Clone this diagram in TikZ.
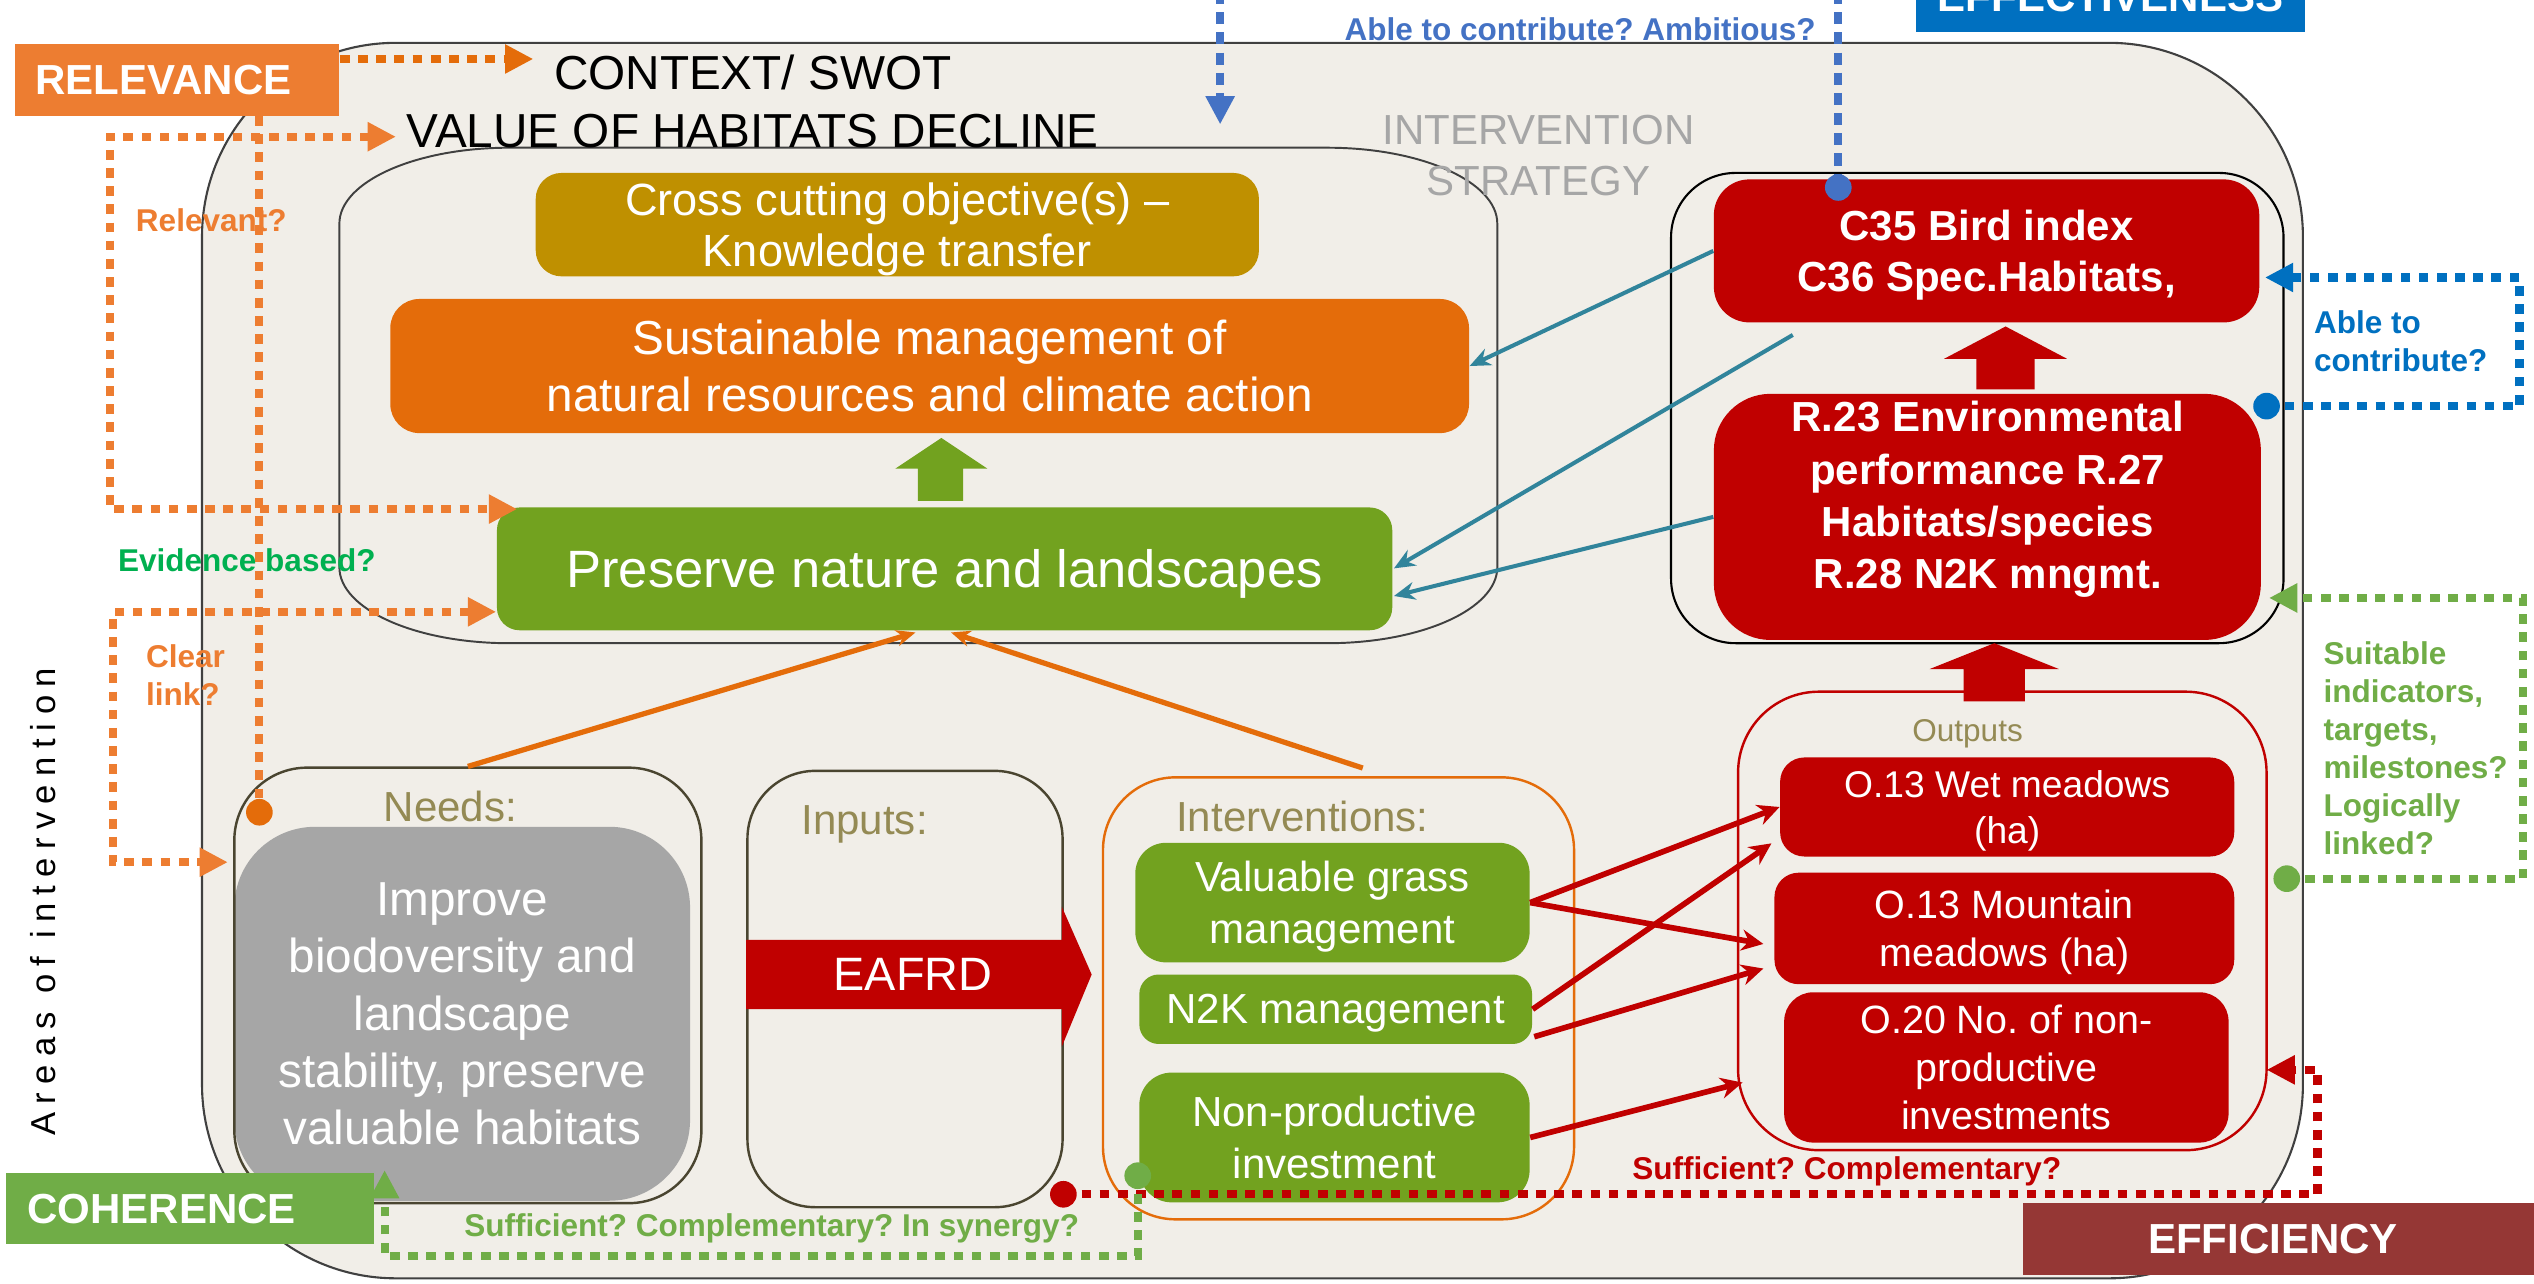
\documentclass[tikz,border=0pt]{standalone}
\usepackage{fontspec}
\setmainfont{Liberation Sans}
\usetikzlibrary{arrows.meta,calc}
\definecolor{bg}{HTML}{F1EEE8}
\definecolor{frame}{HTML}{404040}
\definecolor{relor}{HTML}{ED7D31}
\definecolor{dor}{HTML}{E46C0A}
\definecolor{gold}{HTML}{BF9000}
\definecolor{gbox}{HTML}{72A21F}
\definecolor{glight}{HTML}{70AD47}
\definecolor{evgreen}{HTML}{00B050}
\definecolor{dred}{HTML}{C00000}
\definecolor{effbrown}{HTML}{953735}
\definecolor{effblue}{HTML}{0070C0}
\definecolor{tblue}{HTML}{4472C4}
\definecolor{tealc}{HTML}{31849B}
\definecolor{olive}{HTML}{948A54}
\definecolor{grayb}{HTML}{A6A6A6}
\definecolor{needsb}{HTML}{4A4530}
\newcommand\fz[2]{\fontsize{#1pt}{#2pt}\selectfont}
\frenchspacing
\begin{document}
\begin{tikzpicture}[x=0.02cm,y=-0.02cm,
  every node/.style={inner sep=0pt, text depth=0pt},
  rect/.style n args={4}{minimum width={((#3)-(#1))*0.02cm}, minimum height={((#4)-(#2))*0.02cm}, at={({((#1)+(#3))/2},{((#2)+(#4))/2})}},
  box/.style={text=white, align=center},
  dotline/.style={line width=0.1cm, dash pattern=on 0.12cm off 0.105cm},
  bluedot/.style={line width=0.1cm, dash pattern=on 0.15cm off 0.1cm},
  dtip/.style={-{Triangle[length=0.35cm,width=0.34cm]}},
  dtips/.style={{Triangle[length=0.35cm,width=0.34cm]}-{Triangle[length=0.35cm,width=0.34cm]}},
  dotc/.style={circle, minimum size=0.33cm},
  lab/.style={font=\fz{11.1}{13.4}\bfseries},
  cont/.style={line width=0.03cm},
  tconn/.style={tealc, line width=0.05cm, -{Stealth[length=0.26cm,width=0.22cm]}},
  rconn/.style={dred, line width=0.07cm, -{Stealth[length=0.27cm,width=0.26cm]}},
  oconn/.style={dor, line width=0.065cm, -{Stealth[length=0.24cm,width=0.2cm]}},
]
\useasboundingbox (0,0) rectangle (1568,794);
\clip (0,0) rectangle (1568,794);

% outer frame
\draw[fill=bg, draw=frame, line width=0.026cm, rounded corners=2.4cm] (125,26.5) rectangle (1425,791);

% effectiveness box
\node[rect={1185.5}{-23.4}{1426.5}{20}, fill=effblue, text=white, font=\fz{14.8}{17}\bfseries] (eff) {EFFECTIVENESS};

% intervention strategy frame
\draw[draw=frame, line width=0.024cm] (210,138.4) .. controls (210,112.5) and (257,91.4) .. (315,91.4) -- (821.5,91.4) .. controls (879.5,91.4) and (926.5,112.5) .. (926.5,138.4) -- (926.5,351) .. controls (926.5,376.9) and (879.5,398) .. (821.5,398) -- (315,398) .. controls (257,398) and (210,376.9) .. (210,351) -- cycle;
\node[text=grayb, align=center, font=\fz{14.8}{18}] (istrat) at (952,96) {INTERVENTION\\STRATEGY};

% context texts
\node[font=\fz{16.8}{20}] (ctx) at (465.8,44.6) {CONTEXT/ SWOT};
\node[font=\fz{16.8}{20}] (val) at (465.8,80.8) {VALUE OF HABITATS DECLINE};

% indicators container
\node[rect={1034}{107}{1413}{398}, draw=black, line width=0.026cm, rounded corners=0.8cm] (indbox) {};

% objective boxes
\node[box, rect={331.5}{107}{779}{171}, fill=gold, rounded corners=0.32cm, font=\fz{15.9}{18.2}] (cross) {Cross cutting objective(s) –\\Knowledge transfer};
\node[box, rect={241.5}{185}{909}{268}, fill=dor, rounded corners=0.36cm, font=\fz{16.8}{20.1}] (sust) {Sustainable management of\\natural resources and climate action};
\node[box, rect={307.5}{314}{861.5}{390}, fill=gbox, rounded corners=0.28cm, font=\fz{18.5}{22}] (pres) {Preserve nature and landscapes};

% indicator boxes
\node[box, rect={1060.5}{111}{1398}{199.5}, fill=dred, rounded corners=0.44cm, font=\fz{14.8}{18}\bfseries] (c35) {C35 Bird index\\C36 Spec.Habitats,};
\node[rect={1060.5}{243.7}{1399}{396}, fill=dred, rounded corners=0.7cm] (r23) {};
\node[box, font=\fz{14.8}{18.4}\bfseries] (r23t) at (1230,306.3) {R.23 Environmental\\performance R.27\\Habitats/species\\R.28 N2K mngmt.};

% outputs
\node[rect={1075.5}{428}{1402.5}{711.7}, draw=dred, cont, rounded corners=1cm] (outs) {};
\node[text=olive, font=\fz{11.1}{13}] (outlab) at (1217.5,452.2) {Outputs};
\node[box, rect={1101.5}{468.7}{1382.5}{530}, fill=dred, rounded corners=0.3cm, font=\fz{13.1}{16.5}] (wet) {O.13 Wet meadows\\(ha)};
\node[box, rect={1098}{540}{1382.5}{609}, fill=dred, rounded corners=0.3cm, font=\fz{13.9}{17}] (mtn) {O.13 Mountain\\meadows (ha)};
\node[box, rect={1104}{614}{1379}{707}, fill=dred, rounded corners=0.36cm, font=\fz{13.9}{17}] (o20) {O.20 No. of non-\\productive\\investments};

% needs
\node[box, rect={145}{511.6}{427}{743}, fill=grayb, rounded corners=1cm, font=\fz{16.8}{20.2}] (impr) {Improve\\biodoversity and\\landscape\\stability, preserve\\valuable habitats};
\node[rect={145}{475}{434}{744.5}, draw=needsb, cont, rounded corners=0.9cm] (needs) {};
\node[text=olive, font=\fz{14.8}{17}] (needslab) at (278.75,498.7) {Needs:};

% inputs
\node[rect={462.5}{477}{657.5}{747}, draw=needsb, cont, rounded corners=0.84cm] (inputs) {};
\node[text=olive, font=\fz{14.8}{17}] (inputslab) at (535,507.7) {Inputs:};
\fill[dred] (inputs.west |- 0,581.6) -- (657,581.6) -- (657,561) -- (675.5,603) -- (657,647.7) -- (657,624.5) -- (inputs.west |- 0,624.5) -- cycle;
\node[text=white, font=\fz{16.5}{19}] (eafrd) at (565,603) {EAFRD};

% interventions
\node[rect={682.5}{481}{974}{754.5}, draw=dor, cont, rounded corners=0.9cm] (interv) {};
\node[anchor=west, text=olive, font=\fz{14.8}{17}] (intlab) at (727.5,505) {Interventions:};
\node[box, rect={702.5}{521.5}{946.5}{595.5}, fill=gbox, rounded corners=0.38cm, font=\fz{14.8}{18.2}] (vg) {Valuable grass\\management};
\node[box, rect={705}{603}{948}{646}, fill=gbox, rounded corners=0.24cm, font=\fz{14.8}{18.2}] (n2k) {N2K management};
\node[box, rect={705}{663.7}{946.5}{744}, fill=gbox, rounded corners=0.4cm, font=\fz{14.8}{18.2}] (np) {Non-productive\\investment};

% block arrows
\fill[gbox] (568,310) -- (568,290) -- (554,290) -- (582.5,271) -- (611,290) -- (596,290) -- (596,310) -- cycle;
\fill[dred] (1223,241) -- (1223,222) -- (1203,222) -- (1241,202) -- (1279,222) -- (1259,222) -- (1259,241) -- cycle;
\fill[dred] (1215,434) -- (1215,414) -- (1194,414) -- (1234,398) -- (1274,414) -- (1253,414) -- (1253,434) -- cycle;

% teal arrows
\draw[tconn] (c35.west) -- (sust.east);
\draw[tconn] ($(c35.south west)+(49.2,7.4)$) -- ($(pres.east)+(0.7,-0.3)$);
\draw[tconn] (r23.west) -- ($(pres.east)+(0.7,16.8)$);

% orange lines needs / interventions -> preserve
\draw[oconn] (needs.north) -- ($(pres.south)+(-18,1)$);
\draw[oconn] ($(interv.north)+(15,-5)$) -- ($(pres.south)+(4,1)$);

% red arrows interventions -> outputs
\draw[rconn] (vg.east) -- (wet.west);
\draw[rconn] (vg.east) -- ($(mtn.west)+(-6.5,9.6)$);
\draw[rconn] (n2k.east) -- ($(wet.west)+(-5,22.5)$);
\draw[rconn] ($(n2k.east)+(1,17)$) -- ($(mtn.west)+(-6.5,24.8)$);
\draw[rconn] (np.east) -- ($(outs.west)+(3.5,100)$);

% side label
\node[rotate=90, font=\fz{12.2}{14}] (areas) at (26.4,558) {\addfontfeature{LetterSpace=24}Areas of intervention};

% RELEVANCE
\node[rect={9.5}{27}{210}{71.5}, fill=relor, text=white, font=\fz{14.8}{17}\bfseries] (rel) {\hspace*{-0.34cm}RELEVANCE};

% coordinates for dots
\coordinate (p1) at (160.5,502.6);
\coordinate (p2) at (1137.5,116);
\coordinate (p3) at (1402.5,251.3);
\coordinate (p4) at (1415,543.7);
\coordinate (p5) at (658,739);
\coordinate (p6) at (704,727.5);

% orange dotted
\coordinate (a1) at (330,36.5);
\draw[dotline, dor, dtip] (rel.east |- a1) -- (a1);
\draw[dotline, relor] (rel.south -| p1) -- (p1);
\coordinate (a2) at (245,84.6);
\coordinate (a3) at (320,315);
\draw[dotline, relor, dtips] (a2) -- (68,84.6) -- (68,315) -- (a3);
\coordinate (a4) at (307,378.6);
\coordinate (a5) at (141,533.5);
\draw[dotline, relor, dtips] (a4) -- (70,378.6) -- (70,533.5) -- (a5);

% blue dotted
\coordinate (b0) at (755,-5);
\coordinate (b1) at (755,77);
\draw[bluedot, tblue, dtip] (b0) -- (b1);
\coordinate (b3) at (1137.5,-5);
\draw[bluedot, tblue] (b3) -- (p2);
\coordinate (b2) at (1401.5,171.7);
\draw[dotline, effblue, dtip] (p3) -- (1559,251.3) -- (1559,171.7) -- (b2);

% green dotted right
\coordinate (g1) at (1404,370);
\draw[dotline, glight, dtip] (p4) -- (1561,543.7) -- (1561,370) -- (g1);

% red dotted
\coordinate (r1) at (1402.5,662);
\draw[dotline, dred, dtip] (p5) -- (1434,739) -- (1434,662) -- (r1);

% green coherence dotted
\coordinate (g2) at (238,724);
\draw[dotline, glight, dtip] (p6) -- (704,777) -- (238,777) -- (g2);

% dots
\node[dotc, fill=dor] (d1) at (p1) {};
\node[dotc, fill=tblue] (d2) at (p2) {};
\node[dotc, fill=effblue] (d3) at (p3) {};
\node[dotc, fill=glight] (d4) at (p4) {};
\node[dotc, fill=dred] (d5) at (p5) {};
\node[dotc, fill=glight] (d6) at (p6) {};

% question labels
\node[lab, text=relor] (lrel) at (130.75,136.4) {Relevant?};
\node[lab, text=evgreen] (lev) at (152.75,346.6) {Evidence based?};
\node[lab, text=relor, anchor=north west, align=left] (lclear) at (90,398.5) {Clear\\link?};
\node[lab, text=tblue] (lamb) at (977.75,17.7) {Able to contribute? Ambitious?};
\node[lab, text=effblue, anchor=north west, align=left] (labl) at (1431.5,192) {Able to\\contribute?};
\node[lab, text=glight, anchor=north west, align=left] (lsuit) at (1437.5,396.5) {Suitable\\indicators,\\targets,\\milestones?\\Logically\\linked?};
\node[lab, text=dred] (lsuff) at (1142.75,723) {Sufficient? Complementary?};
\node[lab, text=glight] (lsyn) at (477.5,757.8) {Sufficient? Complementary? In synergy?};

% COHERENCE and EFFICIENCY
\node[rect={4}{726}{231.5}{770}, fill=glight, text=white, font=\fz{14.8}{17}\bfseries] (coh) {\hspace*{-0.71cm}COHERENCE};
\node[rect={1252}{744.5}{1580}{789}, fill=effbrown, text=white, font=\fz{14.8}{17}\bfseries] (effic) {\hspace*{-0.38cm}EFFICIENCY};
\end{tikzpicture}
\end{document}
